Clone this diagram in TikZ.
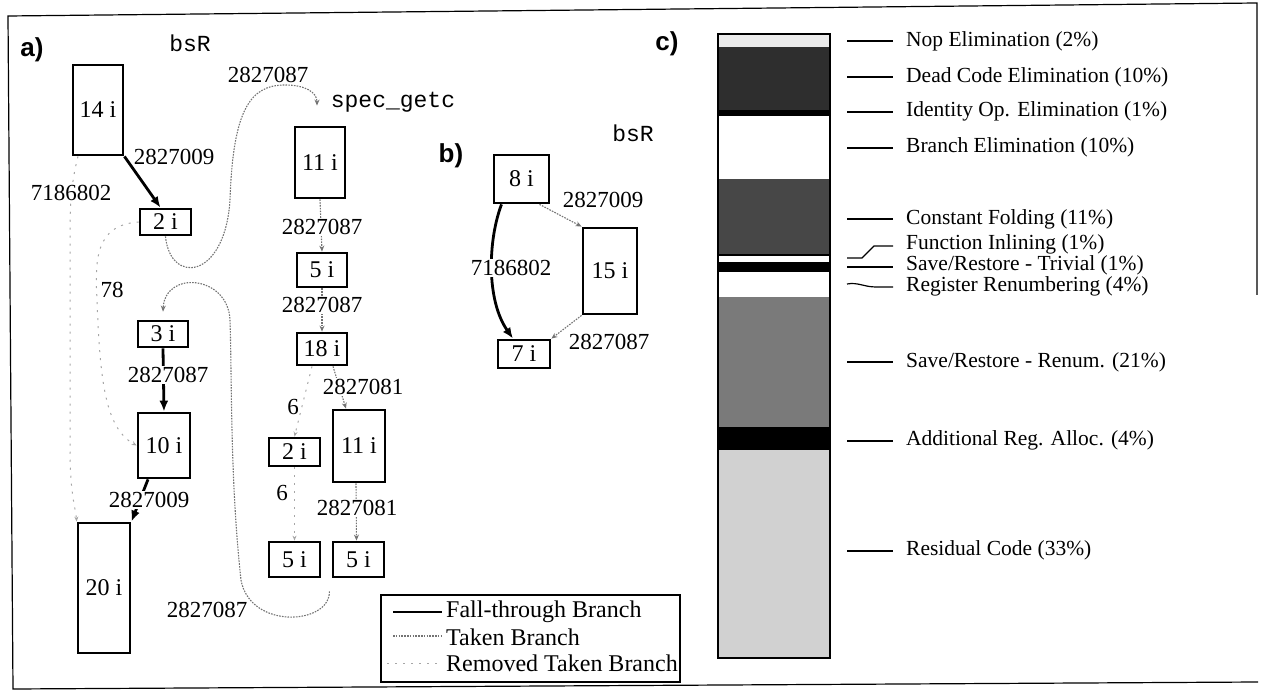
\documentclass[tikz,border=0pt]{standalone}
\usepackage{fontspec}
\setmainfont{Liberation Serif}
\newfontfamily\ttlab{Liberation Mono}
\newfontfamily\sflab{Liberation Sans}
\usetikzlibrary{arrows.meta,calc}
\begin{document}
\begin{tikzpicture}[x=1pt,y=-1pt,
  txt/.style={font=\fontsize{23}{26}\selectfont, inner sep=1pt},
  elab/.style={txt},
  elabw/.style={txt, fill=white},
  legtxt/.style={font=\fontsize{24}{26}\selectfont, inner sep=0pt, anchor=west},
  clab/.style={font=\fontsize{21.5}{24}\selectfont, inner sep=0pt, anchor=west},
  part/.style={font=\sflab\bfseries\fontsize{26}{28}\selectfont, inner sep=0pt},
  code/.style={font=\ttlab\fontsize{23}{26}\selectfont, inner sep=0pt},
  box/.style={draw, line width=2.8pt, inner sep=0pt, fill=white, font=\fontsize{24}{26}\selectfont},
  fall/.style={line width=2.8pt, -{Latex[length=11pt,width=9pt]}},
  takenline/.style={line width=1.1pt, draw=black!55, dash pattern=on 1.6pt off 1.2pt},
  taken/.style={takenline, -{Stealth[length=6pt,width=5pt]}},
  removedline/.style={line width=1pt, draw=black!35, dash pattern=on 2pt off 6pt},
  removed/.style={removedline, -{Stealth[length=5pt,width=4pt]}},
  tick/.style={line width=1.2pt}
]
\useasboundingbox (0,0) rectangle (1261,692);

% frame
\draw[line width=1.2pt] (1257,295) -- (1257,3) -- (8,16) -- (13,689) -- (1258,682);

% ---------- part a ----------
\node[part] (pa) at (32,50) {a)};
\node[code] (bsra) at (190,43) {bsR};
\node[code] (spec) at (393,102) {spec\_getc};

\node[box, minimum width=50, minimum height=90] (n14) at (98,110) {14 i};
\node[box, minimum width=51, minimum height=26] (n2a) at (165.5,222) {2 i};
\node[box, minimum width=50, minimum height=26] (n3) at (163,334) {3 i};
\node[box, minimum width=52, minimum height=65] (n10) at (164,445.5) {10 i};
\node[box, minimum width=52, minimum height=130] (n20) at (104,588) {20 i};
\node[box, minimum width=50, minimum height=71] (n11a) at (320,162.5) {11 i};
\node[box, minimum width=50, minimum height=34] (n5a) at (322,270) {5 i};
\node[box, minimum width=50, minimum height=32] (n18) at (322,349) {18 i};
\node[box, minimum width=51, minimum height=28] (n2b) at (294.5,452) {2 i};
\node[box, minimum width=52, minimum height=72] (n11b) at (359,446) {11 i};
\node[box, minimum width=51, minimum height=35] (n5b) at (294.5,559.5) {5 i};
\node[box, minimum width=51, minimum height=35] (n5c) at (358.5,559.5) {5 i};

\coordinate (loopstart) at ($(n5b.south east)+(8,13)$);

% edges a
\draw[fall] (n14.south east) -- ([xshift=-5pt]n2a.north);
\draw[removed] ([xshift=-20pt]n14.south) .. controls (72,180) and (70,200) .. (70,230)
  -- (70,450) .. controls (70,495) and (76,510) .. (n20.north west);
\draw[taken] (n2a.south) .. controls (170,285) and (225,280) .. (230,200)
  .. controls (233,110) and (250,85) .. (285,85)
  .. controls (305,85) and (317,92) .. ([xshift=-3pt,yshift=20pt]n11a.north);
\draw[removed] (n2a.west) .. controls (95,225) and (95,260) .. (97,300)
  .. controls (100,380) and (105,428) .. (n10.west);
\draw[fall] (n3.south) -- (n10.north);
\draw[fall] ([xshift=-16pt]n10.south) -- (n20.north east);
\draw[taken] (loopstart) .. controls (330,625) and (250,630) .. (241,580)
  .. controls (230,480) and (232,380) .. (230,320)
  .. controls (228,275) and (165,270) .. ([yshift=8pt]n3.north);
\draw[taken] (n11a.south) -- (n5a.north);
\draw[taken] (n5a.south) -- (n18.north);
\draw[taken] ([xshift=11pt]n18.south) -- ([xshift=-13pt]n11b.north);
\draw[removed] ([xshift=-10pt]n18.south) .. controls (303,400) .. (n2b.north);
\draw[removed] (n2b.south) -- (n5b.north);
\draw[taken] ([xshift=-3pt]n11b.south) -- ([xshift=-2pt]n5c.north);

% edge labels a
\node[elab] (l1) at (174,157) {2827009};
\node[elabw] (l2) at (71,193) {7186802};
\node[elab] (l3) at (268,75) {2827087};
\node[elab] (l4) at (112,290) {78};
\node[elabw] (l5) at (168,375) {2827087};
\node[elabw] (l6) at (149,500) {2827009};
\node[elab] (l7) at (207,610) {2827087};
\node[elabw] (l8) at (322,227) {2827087};
\node[elabw] (l9) at (322,305) {2827087};
\node[elabw] (l10) at (363,387) {2827081};
\node[elab] (l11) at (293,407) {6};
\node[elab] (l12) at (282,493) {6};
\node[elabw] (l13) at (357,508) {2827081};

% ---------- part b ----------
\node[part] (pb) at (451,156) {b)};
\node[code] (bsrb) at (633,133) {bsR};
\node[box, minimum width=55, minimum height=48] (n8) at (521.5,179) {8 i};
\node[box, minimum width=54, minimum height=86] (n15) at (610,271) {15 i};
\node[box, minimum width=52, minimum height=28] (n7) at (524,354) {7 i};
\draw[fall] ([xshift=-20pt]n8.south) .. controls (488,240) and (486,300) .. ([xshift=-11pt]n7.north);
\draw[taken] ([xshift=18pt]n8.south) -- (n15.north west);
\draw[taken] (n15.south west) -- (n7.north east);
\node[elabw] (l14) at (511,268) {7186802};
\node[elab] (l15) at (603,200) {2827009};
\node[elab] (l16) at (609,342) {2827087};

% legend
\node[draw, line width=1.5pt, minimum width=299, minimum height=87, inner sep=0pt] (leg) at (530.5,638.5) {};
\draw[line width=2.8pt] (393,612) -- (442,612);
\draw[takenline] (393,636) -- (442,636);
\draw[removedline] (387,663) -- (442,663);
\node[legtxt] (lg1) at (446,612) {Fall-through Branch};
\node[legtxt] (lg2) at (446,637) {Taken Branch};
\node[legtxt] (lg3) at (446,663) {Removed Taken Branch};

% ---------- part c ----------
\node[part] (pc) at (667,44) {c)};
\fill[black!8]  (718,34) rectangle (830,47);
\fill[black!82] (718,47) rectangle (830,110);
\fill[black]    (718,110) rectangle (830,116);
\fill[white]    (718,116) rectangle (830,179);
\fill[black!72] (718,179) rectangle (830,254);
\fill[black]    (718,254) rectangle (830,256);
\fill[white]    (718,256) rectangle (830,262);
\fill[black]    (718,262) rectangle (830,272);
\fill[white]    (718,272) rectangle (830,297);
\fill[black!52] (718,297) rectangle (830,427);
\fill[black]    (718,427) rectangle (830,450);
\fill[black!18] (718,450) rectangle (830,658);
\draw[line width=1.6pt] (718,34) rectangle (830,658);

\draw[tick] (847,41) -- (893,41);
\draw[tick] (847,77) -- (893,77);
\draw[tick] (847,112) -- (893,112);
\draw[tick] (847,148) -- (893,148);
\draw[tick] (847,219) -- (893,219);
\draw[tick] (847,258) -- (862,258) -- (874,246) -- (893,246);
\draw[tick] (847,267) -- (893,267);
\draw[tick] (847,284) .. controls (858,282) and (864,287) .. (876,287) -- (893,287);
\draw[tick] (847,362) -- (893,362);
\draw[tick] (847,441) -- (893,441);
\draw[tick] (847,551) -- (893,551);

\node[clab] (c1) at (906,41) {Nop Elimination (2\%)};
\node[clab] (c2) at (906,77) {Dead Code Elimination (10\%)};
\node[clab] (c3) at (906,111) {Identity Op. Elimination (1\%)};
\node[clab] (c4) at (906,147) {Branch Elimination (10\%)};
\node[clab] (c5) at (906,219) {Constant Folding (11\%)};
\node[clab] (c6) at (906,244) {Function Inlining (1\%)};
\node[clab] (c7) at (906,265) {Save/Restore - Trivial (1\%)};
\node[clab] (c8) at (906,286) {Register Renumbering (4\%)};
\node[clab] (c9) at (906,362) {Save/Restore - Renum. (21\%)};
\node[clab] (c10) at (906,440) {Additional Reg. Alloc. (4\%)};
\node[clab] (c11) at (906,550) {Residual Code (33\%)};
\end{tikzpicture}
\end{document}
